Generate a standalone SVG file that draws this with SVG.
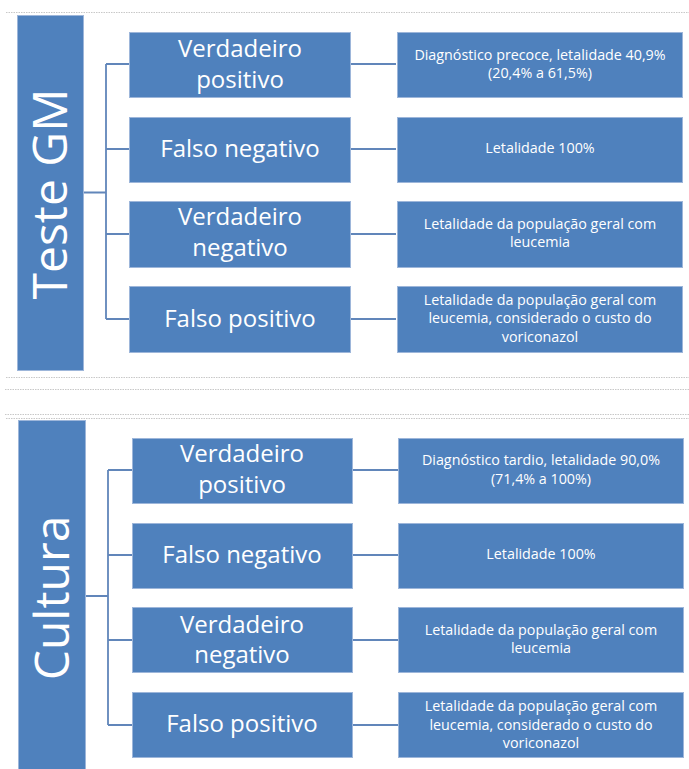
<svg xmlns="http://www.w3.org/2000/svg" width="689" height="769" viewBox="0 0 689 769">
<style>
.box{fill:#4F81BD;stroke:#9DB6DA;stroke-width:1}
.bar{fill:#4F81BD;stroke:#9DB6DA;stroke-width:1}
.mid{font-family:"Open Sans","Noto Sans",sans-serif;font-size:24px;fill:#FFFFFF;text-anchor:middle}
.res{font-family:"Open Sans","Noto Sans",sans-serif;font-size:14.3px;fill:#FFFFFF;text-anchor:middle}
.big{font-family:"Open Sans","Noto Sans",sans-serif;font-size:48px;fill:#FFFFFF;text-anchor:middle}
.dot{stroke:#C8C8C8;stroke-width:1;stroke-dasharray:1.5 1;fill:none}
.con{stroke:#6186BA;stroke-width:1.8;fill:none}
</style>
<rect width="689" height="769" fill="#FFFFFF"/>
<g id="separators">
<line class="dot" x1="6" y1="12.5" x2="689" y2="12.5"/>
<line class="dot" x1="6" y1="377.5" x2="689" y2="377.5"/>
<line class="dot" x1="5" y1="389.5" x2="689" y2="389.5"/>
<line class="dot" x1="5" y1="414.5" x2="689" y2="414.5"/>
<line class="dot" x1="6" y1="418.5" x2="689" y2="418.5"/>
</g>
<g id="connectors">
<path class="con" d="M83 192.5H106M106 64V319M106 64H129M106 149H129M106 234H129M106 319H129"/>
<path class="con" d="M350 64H396M350 149H396M350 234H396M350 319H396"/>
<path class="con" d="M85 596H108M108 470V725M108 470H132M108 555H132M108 640H132M108 725H132"/>
<path class="con" d="M352 470H398M352 555H398M352 640H398M352 725H398"/>
</g>
<g id="teste-gm">
<rect class="bar" x="17.5" y="15.5" width="66" height="355"/>
<text class="big" transform="translate(67 194) rotate(-90)">Teste GM</text>
</g>
<g id="gm-vp">
<rect class="box" x="129.5" y="32.5" width="221" height="65"/>
<text class="mid" x="240" y="57">Verdadeiro</text>
<text class="mid" x="240" y="88">positivo</text>
</g>
<g id="gm-fn">
<rect class="box" x="129.5" y="117.5" width="221" height="65"/>
<text class="mid" x="240" y="157">Falso negativo</text>
</g>
<g id="gm-vn">
<rect class="box" x="129.5" y="201.5" width="221" height="66"/>
<text class="mid" x="240" y="225">Verdadeiro</text>
<text class="mid" x="240" y="256">negativo</text>
</g>
<g id="gm-fp">
<rect class="box" x="129.5" y="286.5" width="221" height="66"/>
<text class="mid" x="240" y="327">Falso positivo</text>
</g>
<g id="gm-vp-res">
<rect class="box" x="397.5" y="32.5" width="285" height="65"/>
<text class="res" x="540" y="60">Diagnóstico precoce, letalidade 40,9%</text>
<text class="res" x="540" y="78">(20,4% a 61,5%)</text>
</g>
<g id="gm-fn-res">
<rect class="box" x="397.5" y="117.5" width="285" height="65"/>
<text class="res" x="540" y="153">Letalidade 100%</text>
</g>
<g id="gm-vn-res">
<rect class="box" x="397.5" y="201.5" width="285" height="66"/>
<text class="res" x="540" y="229">Letalidade da população geral com</text>
<text class="res" x="540" y="247">leucemia</text>
</g>
<g id="gm-fp-res">
<rect class="box" x="397.5" y="286.5" width="285" height="66"/>
<text class="res" x="540" y="305">Letalidade da população geral com</text>
<text class="res" x="540" y="323">leucemia, considerado o custo do</text>
<text class="res" x="540" y="342">voriconazol</text>
</g>
<g id="cultura">
<rect class="bar" x="18.5" y="420.5" width="67" height="352"/>
<text class="big" transform="translate(69 598) rotate(-90)">Cultura</text>
</g>
<g id="cu-vp">
<rect class="box" x="132.5" y="438.5" width="220" height="65"/>
<text class="mid" x="242" y="462">Verdadeiro</text>
<text class="mid" x="242" y="493">positivo</text>
</g>
<g id="cu-fn">
<rect class="box" x="132.5" y="523.5" width="220" height="65"/>
<text class="mid" x="242" y="563">Falso negativo</text>
</g>
<g id="cu-vn">
<rect class="box" x="132.5" y="607.5" width="220" height="65"/>
<text class="mid" x="242" y="633">Verdadeiro</text>
<text class="mid" x="242" y="663">negativo</text>
</g>
<g id="cu-fp">
<rect class="box" x="132.5" y="692.5" width="220" height="65"/>
<text class="mid" x="242" y="732">Falso positivo</text>
</g>
<g id="cu-vp-res">
<rect class="box" x="398.5" y="438.5" width="285" height="65"/>
<text class="res" x="541" y="465">Diagnóstico tardio, letalidade 90,0%</text>
<text class="res" x="541" y="483.5">(71,4% a 100%)</text>
</g>
<g id="cu-fn-res">
<rect class="box" x="398.5" y="523.5" width="285" height="65"/>
<text class="res" x="541" y="559">Letalidade 100%</text>
</g>
<g id="cu-vn-res">
<rect class="box" x="398.5" y="607.5" width="285" height="65"/>
<text class="res" x="541" y="635">Letalidade da população geral com</text>
<text class="res" x="541" y="653">leucemia</text>
</g>
<g id="cu-fp-res">
<rect class="box" x="398.5" y="692.5" width="285" height="65"/>
<text class="res" x="541" y="711">Letalidade da população geral com</text>
<text class="res" x="541" y="729.5">leucemia, considerado o custo do</text>
<text class="res" x="541" y="748">voriconazol</text>
</g>
</svg>
